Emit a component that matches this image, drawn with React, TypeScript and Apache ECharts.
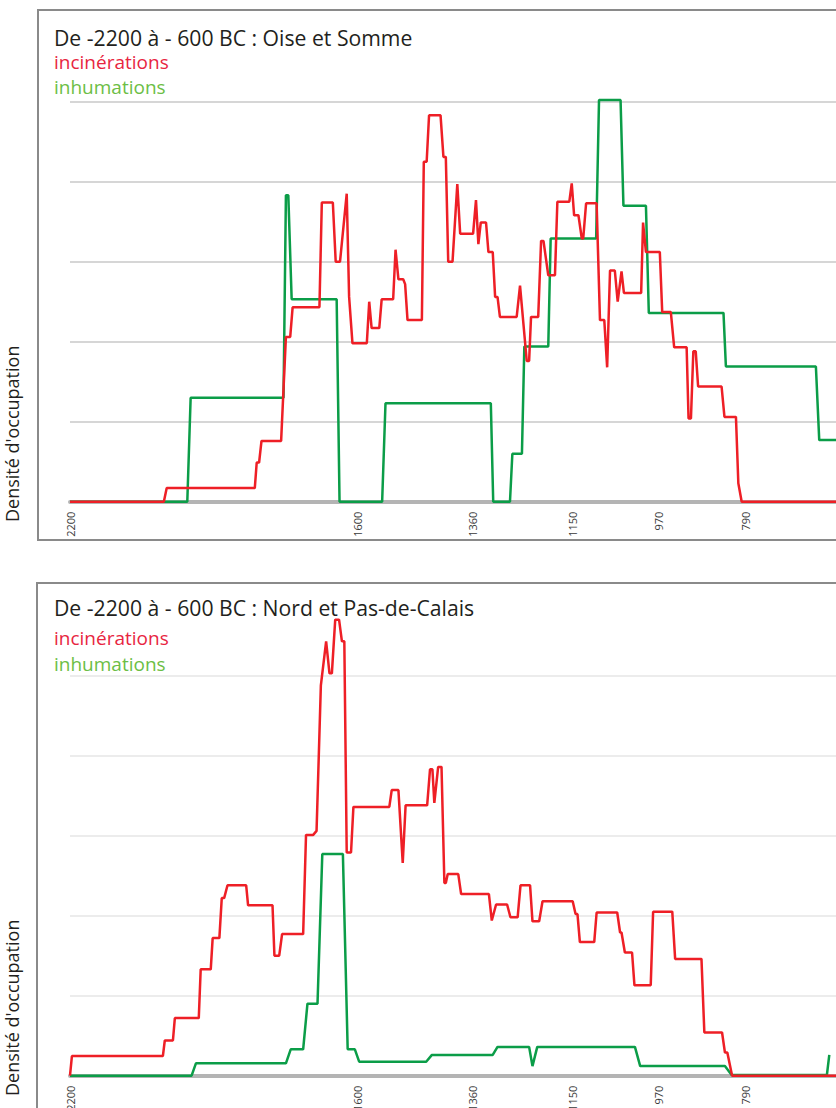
import React, { useEffect, useRef } from "react";
import * as echarts from "echarts";

const tickYears = [2200, 1600, 1360, 1150, 970, 790];

const titleOise = "De -2200 à - 600 BC : Oise et Somme";
const titleNord = "De -2200 à - 600 BC : Nord et Pas-de-Calais";
const legendIncin = "incinérations";
const legendInhum = "inhumations";
const yName = "Densité d'occupation";

const oiseIncinerations: [number, number][] = [
  [2200, 0], [2004, 0], [1998, 0.17], [1814, 0.17], [1810, 0.49], [1805, 0.49], [1800, 0.76], [1759, 0.76],
  [1749, 2.06], [1740, 2.06], [1735, 2.43], [1679, 2.43], [1674, 3.74], [1651, 3.74], [1645, 3.0], [1636, 3.0],
  [1622, 3.85], [1617, 2.56], [1610, 1.98], [1580, 1.98], [1575, 2.5], [1570, 2.17], [1554, 2.17], [1549, 2.53],
  [1525, 2.53], [1520, 3.15], [1514, 2.78], [1504, 2.78], [1500, 2.72], [1495, 2.27], [1465, 2.27], [1461, 4.25],
  [1455, 4.25], [1450, 4.83], [1426, 4.83], [1420, 4.31], [1415, 4.31], [1410, 3.0], [1401, 3.0], [1391, 3.97],
  [1385, 3.35], [1358, 3.35], [1352, 3.77], [1347, 3.22], [1342, 3.49], [1331, 3.49], [1326, 3.12], [1317, 3.12],
  [1312, 2.56], [1307, 2.56], [1302, 2.31], [1267, 2.31], [1260, 2.7], [1246, 1.76], [1241, 1.76], [1237, 2.31],
  [1222, 2.31], [1216, 3.26], [1211, 3.26], [1201, 2.83], [1187, 2.83], [1182, 3.75], [1157, 3.75], [1152, 3.98],
  [1147, 3.58], [1138, 3.58], [1131, 3.29], [1128, 3.29], [1122, 3.73], [1100, 3.73], [1093, 2.27], [1084, 2.27],
  [1078, 1.68], [1072, 2.89], [1062, 2.89], [1056, 2.5], [1048, 2.88], [1043, 2.61], [1007, 2.61], [1003, 3.49],
  [997, 3.12], [968, 3.12], [963, 2.37], [945, 2.37], [938, 1.93], [912, 1.93], [908, 1.04], [903, 1.04],
  [898, 1.88], [893, 1.88], [888, 1.44], [839, 1.44], [833, 1.06], [809, 1.06], [804, 0.23], [797, 0], [600, 0],
];

const oiseInhumations: [number, number][] = [
  [2200, 0], [1955, 0], [1948, 1.3], [1754, 1.3], [1749, 3.83], [1744, 3.83], [1737, 2.53], [1643, 2.53],
  [1637, 0], [1548, 0], [1541, 1.23], [1321, 1.23], [1316, 0], [1281, 0], [1276, 0.6], [1256, 0.6],
  [1251, 1.94], [1201, 1.94], [1196, 3.29], [1101, 3.29], [1095, 5.02], [1050, 5.02], [1044, 3.7], [997, 3.7],
  [991, 2.36], [835, 2.36], [830, 1.69], [642, 1.69], [635, 0.77], [600, 0.77],
];

const nordIncinerations: [number, number][] = [
  [2200, 0], [2196, 0.245], [2006, 0.245], [2002, 0.44], [1985, 0.44], [1981, 0.72], [1931, 0.72], [1927, 1.33],
  [1906, 1.33], [1902, 1.72], [1888, 1.72], [1883, 2.22], [1878, 2.22], [1871, 2.38], [1832, 2.38], [1828, 2.13],
  [1777, 2.13], [1773, 1.5], [1763, 1.5], [1757, 1.77], [1713, 1.77], [1707, 3.01], [1692, 3.01], [1685, 3.06],
  [1676, 4.88], [1665, 5.43], [1658, 5.03], [1653, 5.03], [1646, 5.7], [1638, 5.7], [1632, 5.43], [1627, 5.43],
  [1622, 2.79], [1613, 2.79], [1608, 3.36], [1533, 3.36], [1528, 3.57], [1514, 3.57], [1505, 2.66], [1499, 3.38],
  [1454, 3.38], [1448, 3.83], [1443, 3.83], [1439, 3.41], [1431, 3.86], [1424, 3.86], [1418, 2.41], [1415, 2.41],
  [1411, 2.52], [1389, 2.52], [1383, 2.27], [1325, 2.27], [1319, 1.94], [1310, 2.14], [1287, 2.14], [1280, 1.98],
  [1265, 1.98], [1259, 2.38], [1239, 2.38], [1234, 1.93], [1220, 1.93], [1213, 2.18], [1150, 2.18], [1144, 2.02],
  [1140, 2.02], [1135, 1.67], [1105, 1.67], [1100, 2.04], [1057, 2.04], [1051, 1.79], [1048, 1.79], [1041, 1.54],
  [1026, 1.54], [1021, 1.13], [987, 1.13], [982, 2.05], [942, 2.05], [936, 1.46], [881, 1.46], [875, 0.54],
  [838, 0.54], [832, 0.29], [827, 0.29], [817, 0], [600, 0],
];

const nordInhumations: [number, number][] = [
  [2200, 0], [1946, 0], [1937, 0.155], [1749, 0.155], [1739, 0.33], [1713, 0.33], [1704, 0.9], [1683, 0.9],
  [1673, 2.77], [1630, 2.77], [1620, 0.33], [1605, 0.33], [1596, 0.175], [1456, 0.175], [1444, 0.26], [1317, 0.26],
  [1307, 0.36], [1241, 0.36], [1234, 0.12], [1224, 0.36], [1020, 0.36], [1009, 0.12], [832, 0.12], [818, 0.01],
  [619, 0.01], [614, 0.26],
];

const RED = "#ee1f26";
const GREEN = "#0b9d48";
const FONT = "'Open Sans', 'Noto Sans', sans-serif";

export default function App() {
  const ref = useRef<HTMLDivElement>(null);
  useEffect(() => {
    document.body.style.margin = "0";
    const chart = echarts.init(ref.current!, null, { renderer: "svg" });

    const mkX = (gridIndex: number) => ({
      type: "value",
      gridIndex,
      min: 600,
      max: 2200,
      inverse: true,
      axisLine: { show: true, onZero: false, lineStyle: { color: "#b4b4b4", width: 4 } },
      axisTick: { show: false },
      splitLine: { show: false },
      axisLabel: {
        customValues: tickYears,
        formatter: (v: number) => String(v),
        rotate: 90,
        margin: 10,
        fontSize: 11,
        color: "#3a3a3a",
        fontFamily: FONT,
      },
    });
    const mkY = (gridIndex: number, gridColor: string) => ({
      type: "value",
      gridIndex,
      min: 0,
      max: 5,
      interval: 1,
      axisLine: { show: false },
      axisTick: { show: false },
      axisLabel: { show: false },
      splitLine: { show: true, lineStyle: { color: gridColor, width: 2 } },
    });
    const mkLine = (data: [number, number][], color: string, idx: number, z: number) => ({
      type: "line",
      data,
      xAxisIndex: idx,
      yAxisIndex: idx,
      showSymbol: false,
      symbol: "none",
      clip: false,
      z,
      lineStyle: { color, width: 2.5 },
      itemStyle: { color },
    });
    const txt = (text: string, x: number, y: number, size: number, fill: string, extra: any = {}) => ({
      type: "text",
      x,
      y,
      z: 100,
      ...extra,
      style: {
        text,
        fontSize: size,
        lineHeight: Math.round(size),
        fontFamily: FONT,
        fill,
        textAlign: "left",
        textVerticalAlign: "middle",
        align: "left",
        verticalAlign: "middle",
      },
    });

    chart.setOption({
      animation: false,
      backgroundColor: "#ffffff",
      grid: [
        { left: 70, right: 0, top: 101.7, height: 400, containLabel: false, outerBoundsMode: "none" },
        { left: 70, right: 0, top: 675.7, height: 400, containLabel: false, outerBoundsMode: "none" },
      ],
      xAxis: [mkX(0), mkX(1)],
      yAxis: [mkY(0, "#d6d6d6"), mkY(1, "#ececec")],
      series: [
        mkLine(oiseInhumations, GREEN, 0, 3),
        mkLine(oiseIncinerations, RED, 0, 4),
        mkLine(nordInhumations, GREEN, 1, 3),
        mkLine(nordIncinerations, RED, 1, 4),
      ],
      graphic: [
        {
          type: "rect",
          shape: { x: 38, y: 10, width: 900, height: 530 },
          style: { fill: "none", stroke: "#8a8a8a", lineWidth: 2 },
          z: 50,
        },
        {
          type: "rect",
          shape: { x: 37, y: 583, width: 900, height: 600 },
          style: { fill: "none", stroke: "#8a8a8a", lineWidth: 2 },
          z: 50,
        },
        txt(titleOise, 54, 37.5, 21.2, "#231f20"),
        txt(legendIncin, 54, 61.5, 19, "#e8253f"),
        txt(legendInhum, 54, 87, 19, "#6cbe45"),
        txt(yName, 12, 522, 18, "#231f20", { rotation: Math.PI / 2 }),
        txt(titleNord, 54, 607, 21.2, "#231f20"),
        txt(legendIncin, 54, 638, 19, "#e8253f"),
        txt(legendInhum, 54, 664, 19, "#6cbe45"),
        txt(yName, 12, 1096, 18, "#231f20", { rotation: Math.PI / 2 }),
      ],
    });
    return () => chart.dispose();
  }, []);
  return <div ref={ref} style={{ width: 836, height: 1108 }} />;
}
